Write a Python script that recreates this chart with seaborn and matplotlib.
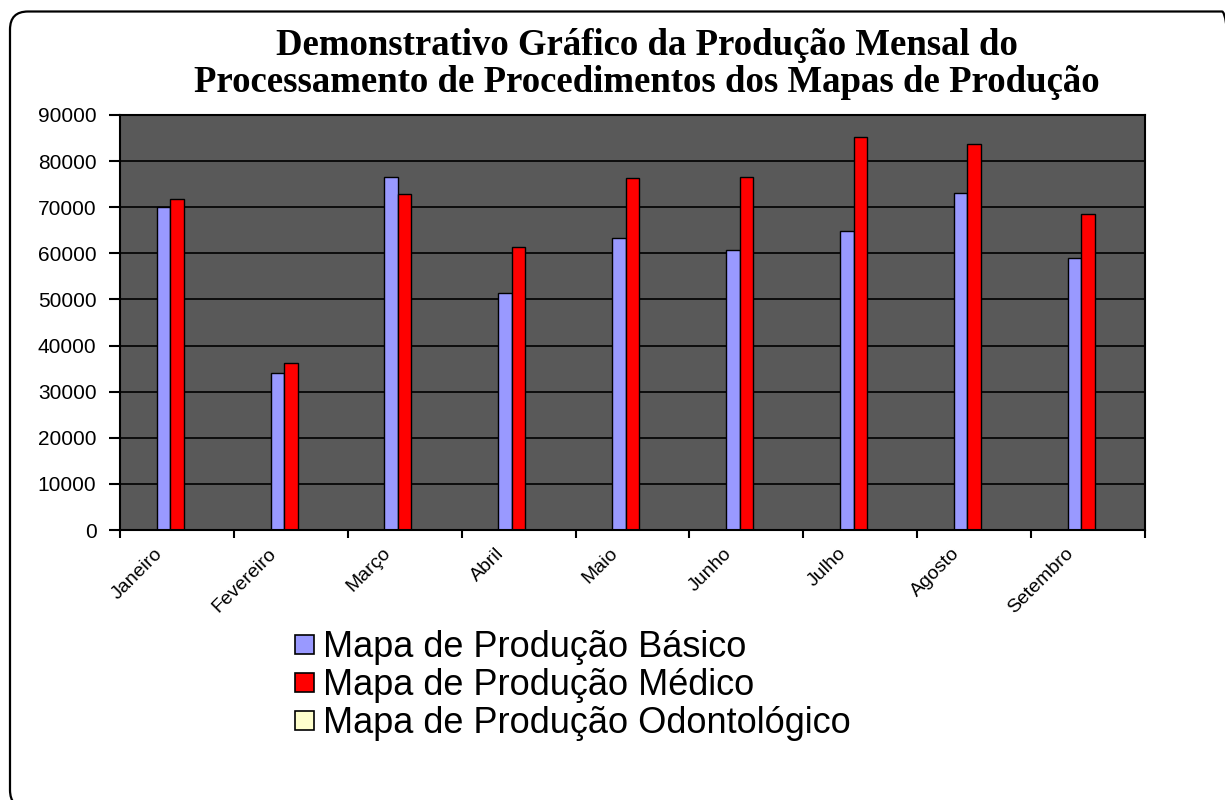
import matplotlib
matplotlib.use("Agg")
import matplotlib.pyplot as plt
import seaborn as sns
import numpy as np
import pandas as pd
from matplotlib.patches import FancyBboxPatch, Patch

meses = ["Janeiro", "Fevereiro", "Março", "Abril", "Maio", "Junho", "Julho", "Agosto", "Setembro"]
basico = [70000, 34000, 76600, 51300, 63300, 60700, 64800, 73100, 59000]
medico = [71700, 36200, 72900, 61400, 76400, 76600, 85300, 83800, 68500]
odontologico = [0, 0, 0, 0, 0, 0, 0, 0, 0]
series = ["Mapa de Produção Básico", "Mapa de Produção Médico", "Mapa de Produção Odontológico"]
cores = ["#9999FF", "#FF0000", "#FFFFCC"]
titulo = "Demonstrativo Gráfico da Produção Mensal do\nProcessamento de Procedimentos dos Mapas de Produção"

rows = []
for nome, vals in zip(series, [basico, medico, odontologico]):
    for m, v in zip(meses, vals):
        rows.append({"Mês": m, "Valor": v, "Série": nome})
df = pd.DataFrame(rows)

sns.set_theme(style="white")
plt.rcParams["font.family"] = ["Liberation Sans", "DejaVu Sans"]
plt.rcParams["text.color"] = "black"
plt.rcParams["xtick.color"] = "black"
plt.rcParams["ytick.color"] = "black"

W, H = 1225, 800
fig = plt.figure(figsize=(W / 100, H / 100), dpi=100)
fig.patch.set_facecolor("white")
ax = fig.add_axes([120 / W, 1 - 530 / H, (1145 - 120) / W, (530 - 115) / H])
ax.set_facecolor("#595959")
ax.set_axisbelow(True)

sns.barplot(data=df, x="Mês", y="Valor", hue="Série", hue_order=series,
            palette=cores, order=meses, width=0.356, edgecolor="black",
            linewidth=1.0, ax=ax, legend=False, saturation=1, errorbar=None)

ax.set_ylim(0, 90000)
ax.set_xlim(-0.5, len(meses) - 0.5)
ax.set_yticks(range(0, 90001, 10000))
ax.set_yticklabels([str(v) for v in range(0, 90001, 10000)], fontsize=15)
ax.yaxis.grid(True, color="black", linewidth=1.2)
ax.xaxis.grid(False)
ax.set_xlabel("")
ax.set_ylabel("")

# category boundaries as major ticks; labels on (slightly left-shifted) minor ticks
n = len(meses)
ax.set_xticks(np.arange(n + 1) - 0.5)
ax.set_xticklabels([])
ax.set_xticks(np.arange(n) - 0.15, minor=True)
ax.set_xticklabels(meses, minor=True, rotation=45, ha="right", va="center",
                   rotation_mode="anchor", fontsize=14)
ax.tick_params(axis="x", which="major", direction="out", length=6, width=1.5, color="black", bottom=True)
ax.tick_params(axis="x", which="minor", length=0, pad=15)
ax.tick_params(axis="y", direction="out", length=8, width=1.5, color="black", left=True, pad=9)

for s in ax.spines.values():
    s.set_color("black")
    s.set_linewidth(1.5)

fig.text(647 / W, 1 - 64 / H, titulo, ha="center", va="center", color="black",
         fontsize=26.5, fontweight="bold", family="Liberation Serif", linespacing=1.1)

handles = [Patch(facecolor=c, edgecolor="black", linewidth=1.2) for c in cores]
fig.legend(handles, series, loc="upper left", bbox_to_anchor=(281 / W, 1 - 616 / H),
           frameon=False, fontsize=26, handlelength=0.5, handleheight=0.45,
           handletextpad=0.25, labelspacing=0.08, borderaxespad=0)

border = FancyBboxPatch((10, -8), 1230, 800 - 11.5 + 8, boxstyle="round,pad=0,rounding_size=18",
                        transform=None, facecolor="none", edgecolor="black", linewidth=1.6)
fig.patches.append(border)

fig.savefig("out.png", dpi=100, facecolor="white")
